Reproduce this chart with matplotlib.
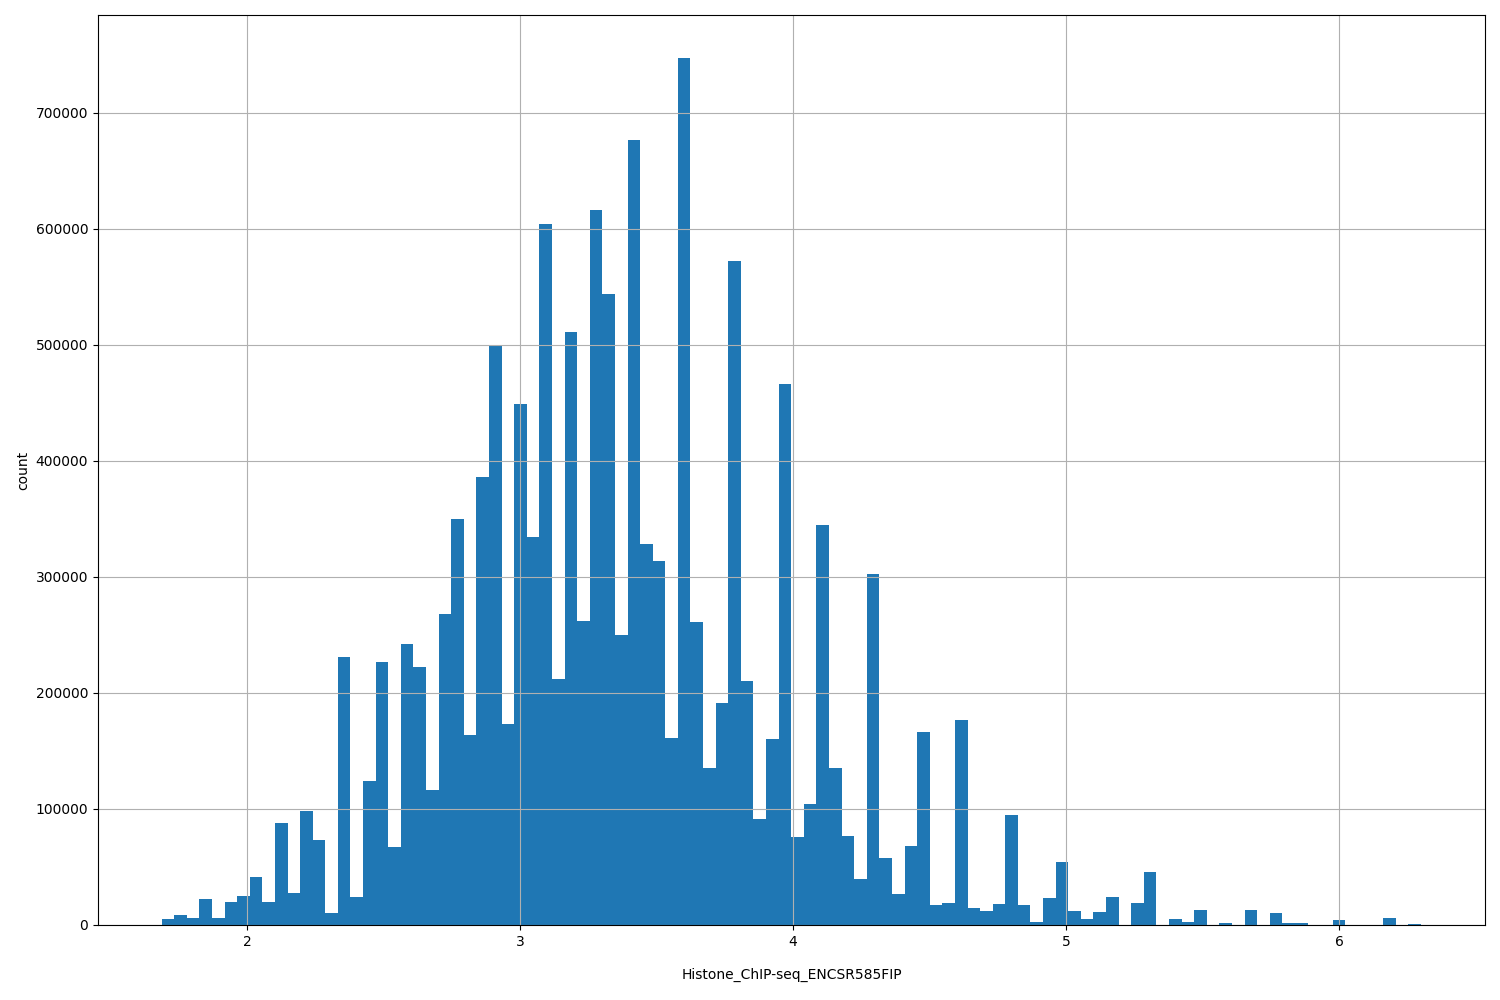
import numpy as np
import matplotlib
matplotlib.use("Agg")
import matplotlib.pyplot as plt

x_start = 1.687
x_end = 6.30
counts = [5000, 9000, 6000, 22000, 6000, 20000, 25000, 41000, 20000, 88000,
          28000, 98000, 73000, 10000, 231000, 24000, 124000, 227000, 67000, 242000,
          222000, 116000, 268000, 350000, 164000, 386000, 500000, 173000, 449000, 334000,
          604000, 212000, 511000, 262000, 616000, 544000, 250000, 676000, 328000, 314000,
          161000, 747000, 261000, 135000, 191000, 572000, 210000, 91000, 160000, 466000,
          76000, 104000, 345000, 135000, 77000, 40000, 302000, 58000, 27000, 68000,
          166000, 17000, 19000, 177000, 15000, 12000, 18000, 95000, 17000, 3000,
          23000, 54000, 12000, 5000, 11000, 24000, 0, 19000, 46000, 0,
          5000, 3000, 13000, 0, 2000, 0, 13000, 0, 10000, 2000,
          2000, 0, 0, 4000, 0, 0, 0, 6000, 0, 1000]

edges = np.linspace(x_start, x_end, len(counts) + 1)

fig = plt.figure(figsize=(15, 10), dpi=100)
ax = fig.add_axes([98/1500, 75/1000, 1387/1500, 910/1000])
ax.bar(edges[:-1], counts, width=np.diff(edges), align='edge', color='#1f77b4')
ax.grid(True)
ax.set_xlim(1.454, 6.535)
ax.set_ylim(0, 784000)
ax.set_xlabel('Histone_ChIP-seq_ENCSR585FIP', labelpad=14)
ax.set_ylabel('count')
fig.savefig('out.png')
